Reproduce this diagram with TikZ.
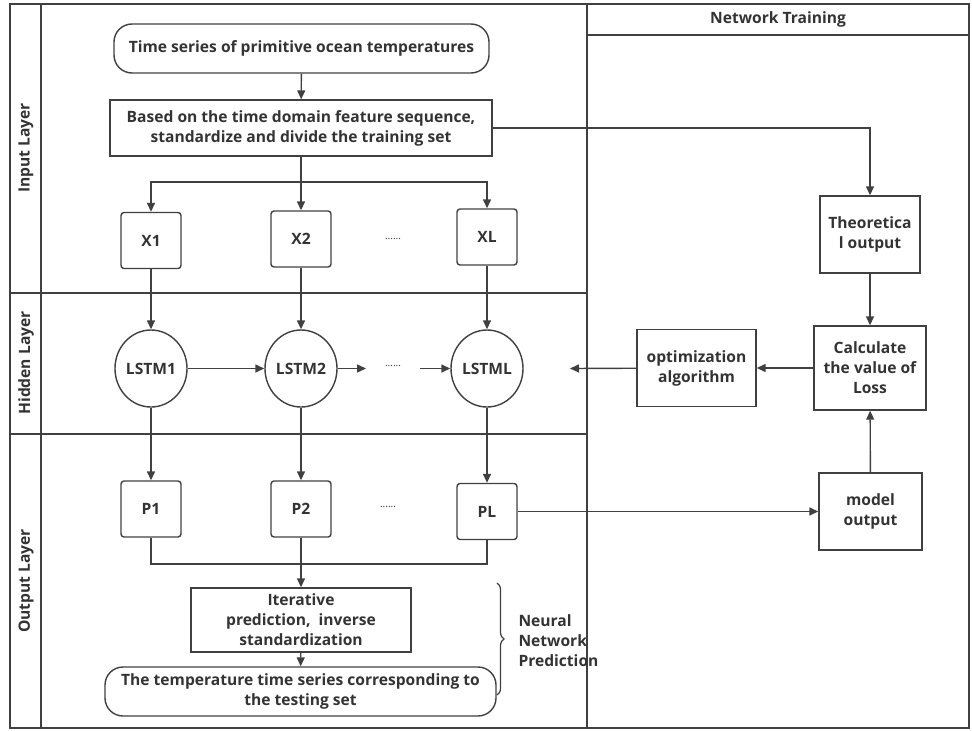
\documentclass[tikz,border=0pt]{standalone}
\usepackage{fontspec}
\setmainfont{Open Sans}
\usetikzlibrary{arrows.meta,shapes.geometric,decorations.pathreplacing}
\definecolor{ln}{HTML}{404040}
\definecolor{tx}{HTML}{333333}
\tikzset{
  base/.style={draw=ln,line width=1.4pt,text=tx,font=\fontsize{15.6}{20}\selectfont\bfseries,align=center,inner sep=1pt},
  boxr/.style={base,rectangle},
  smallbox/.style={base,rectangle,rounded corners=3pt,minimum width=60pt,minimum height=56pt},
  termbox/.style={base,rectangle,rounded corners=18pt},
  cell/.style={base,ellipse,minimum width=72pt,minimum height=77pt,inner sep=0pt},
  conn/.style={draw=ln,line width=1.4pt},
  arr/.style={conn,-{Triangle[length=9pt,width=8pt]}},
  lbl/.style={text=tx,font=\fontsize{15.6}{20}\selectfont\bfseries},
  dots/.style={text=tx,font=\fontsize{10}{10}\selectfont},
}
\begin{document}
\begin{tikzpicture}[x=1pt,y=-1pt]
\useasboundingbox (0,0) rectangle (972,731);
% frame
\draw[conn] (10,4) rectangle (969,728);
\draw[conn] (41,4) -- (41,728);
\draw[conn] (587,4) -- (587,728);
\draw[conn] (10,293) -- (587,293);
\draw[conn] (10,434) -- (587,434);
\draw[conn] (587,35) -- (969,35);
\node[lbl] (hdr) at (778,19) {Network Training};
\node[lbl,rotate=90] (lin) at (26,148) {Input Layer};
\node[lbl,rotate=90] (lhid) at (26,363) {Hidden Layer};
\node[lbl,rotate=90] (lout) at (26,581) {Output Layer};
% input layer
\node[termbox,minimum width=375pt,minimum height=49pt] (top) at (301.5,48.5) {Time series of primitive ocean temperatures};
\node[boxr,minimum width=382pt,minimum height=56pt] (std) at (301,128) {Based on the time domain feature sequence,\\ standardize and divide the training set};
\coordinate (br) at (301,182);
\node[smallbox] (x1) at (151,240.5) {X1};
\node[smallbox] (x2) at (301,239) {X2};
\node[smallbox] (xl) at (487,237) {XL};
\node[dots] (xd) at (393,239) {......};
% hidden layer
\node[cell] (l1) at (151,368.5) {LSTM1};
\node[cell] (l2) at (301,368.5) {LSTM2};
\node[cell] (ll) at (487,368.5) {LSTML};
\coordinate (h1) at (366,368.5);
\coordinate (h2) at (420,368.5);
\node[dots] (hd) at (393,366) {......};
% output layer
\node[smallbox] (p1) at (151,509) {P1};
\node[smallbox] (p2) at (301,509) {P2};
\node[smallbox] (pl) at (487,511.5) {PL};
\node[dots] (pd) at (388,507) {......};
\coordinate (m1) at (151,564);
\coordinate (m2) at (487,564);
\node[boxr,minimum width=220pt,minimum height=64pt] (iter) at (301,620) {Iterative\\ prediction,\ \ inverse\\ standardization};
\node[termbox,minimum width=391pt,minimum height=49pt] (fin) at (300.5,691.5) {The temperature time series corresponding to\\ the testing set};
\node[lbl,align=left,anchor=west] (nnp) at (515,641) {Neural\\ Network\\ Prediction};
% network training
\node[boxr,minimum width=100pt,minimum height=77pt] (theo) at (870,234.5) {Theoretica\\ l output};
\node[boxr,minimum width=112pt,minimum height=84pt] (calc) at (870,368) {Calculate\\ the value of\\ Loss};
\node[boxr,minimum width=119pt,minimum height=77pt] (opt) at (696.5,368) {optimization\\ algorithm};
\node[boxr,minimum width=103pt,minimum height=77pt] (mod) at (870.5,511.5) {model\\ output};
\coordinate (oe) at (570,368.5);
% connectors
\draw[arr] (top) -- (std);
\draw[conn] (std) -- (br);
\draw[arr] (br) -| (x1);
\draw[arr] (br) -- (x2);
\draw[arr] (br) -| (xl);
\draw[arr] (std.east) -| (theo.north);
\draw[arr] (x1) -- (l1);
\draw[arr] (x2) -- (l2);
\draw[arr] (xl) -- (ll);
\draw[arr] (l1) -- (l2);
\draw[arr] (l2) -- (h1);
\draw[arr] (h2) -- (ll);
\draw[arr] (l1) -- (p1);
\draw[arr] (l2) -- (p2);
\draw[arr] (ll) -- (pl);
\draw[conn] (p1.south) -- (m1) -- (m2) -- (pl.south);
\draw[arr] (p2) -- (iter);
\draw[arr] (iter) -- (fin);
\draw[arr] (theo) -- (calc);
\draw[arr] (calc) -- (opt);
\draw[arr] (opt) -- (oe);
\draw[arr] (mod) -- (calc);
\draw[arr] (pl.east) -- (pl.east -| mod.west);
\draw[conn,line width=1.2pt,decorate,decoration={brace,amplitude=7pt}] (497,583) -- (497,695);
\end{tikzpicture}
\end{document}
